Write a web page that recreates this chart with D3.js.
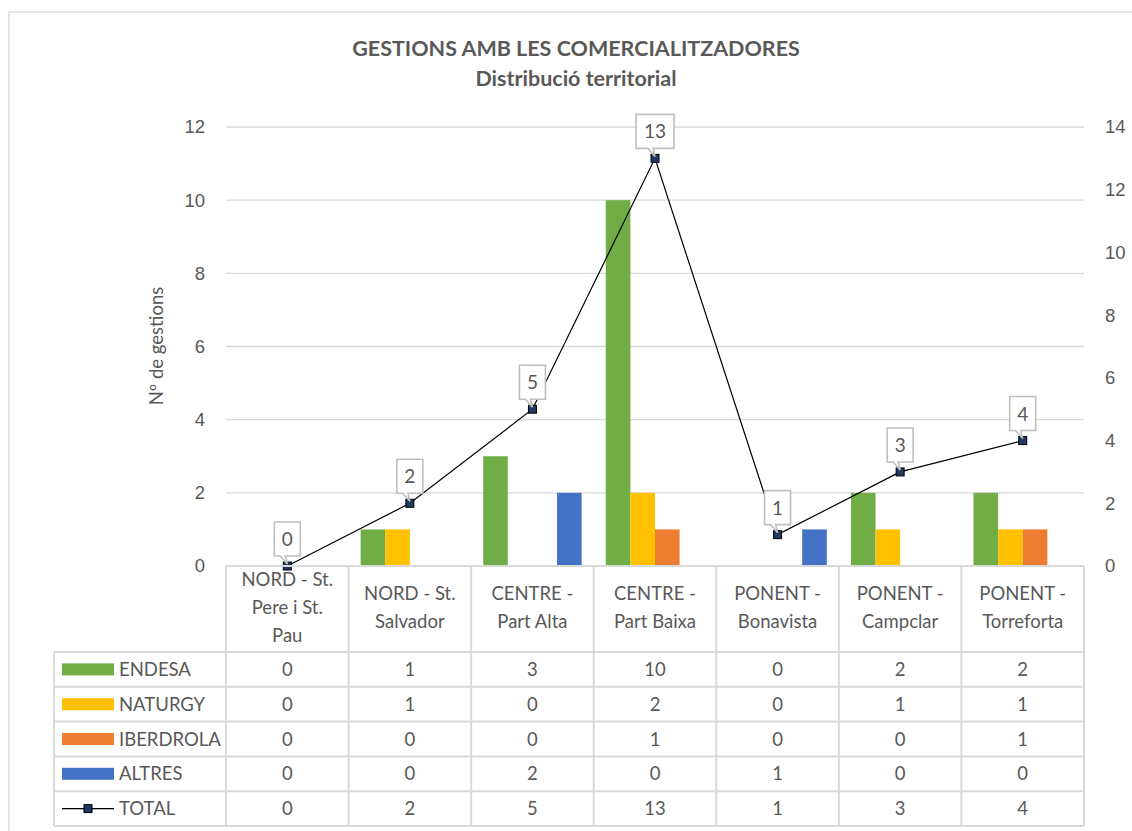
<!DOCTYPE html>
<html>
<head>
<meta charset="utf-8">
<script src="https://cdn.jsdelivr.net/npm/d3@7"></script>
<style>
  body { margin: 0; background: #fff; }
  svg { display: block; font-family: Lato, "Noto Sans", sans-serif; }
  .grid line { stroke: #d9d9d9; stroke-width: 1.3; }
  .tick-label { fill: #595959; font-size: 18.5px; }
  .cell { fill: #595959; font-size: 18.5px; }
</style>
</head>
<body>
<svg id="chart" width="1132" height="831"></svg>
<script>
// ------------------------------------------------------------
// Dades
// ------------------------------------------------------------
const categories = [
  "NORD - St. Pere i St. Pau",
  "NORD - St. Salvador",
  "CENTRE - Part Alta",
  "CENTRE - Part Baixa",
  "PONENT - Bonavista",
  "PONENT - Campclar",
  "PONENT - Torreforta"
];
// com es parteixen les etiquetes a l'eix
const categoryLines = [
  ["NORD - St.", "Pere i St.", "Pau"],
  ["NORD - St.", "Salvador"],
  ["CENTRE -", "Part Alta"],
  ["CENTRE -", "Part Baixa"],
  ["PONENT -", "Bonavista"],
  ["PONENT -", "Campclar"],
  ["PONENT -", "Torreforta"]
];
const endesa = [0, 1, 3, 10, 0, 2, 2];
const naturgy = [0, 1, 0, 2, 0, 1, 1];
const iberdrola = [0, 0, 0, 1, 0, 0, 1];
const altres = [0, 0, 2, 0, 1, 0, 0];
const total = [0, 2, 5, 13, 1, 3, 4];

const leftTicks = [0, 2, 4, 6, 8, 10, 12];
const rightTicks = [0, 2, 4, 6, 8, 10, 12, 14];

const seriesNames = ["ENDESA", "NATURGY", "IBERDROLA", "ALTRES"];
const seriesColors = ["#70AD47", "#FFC000", "#ED7D31", "#4472C4"];
const barSeries = [endesa, naturgy, iberdrola, altres];

// ------------------------------------------------------------
// Mides
// ------------------------------------------------------------
const svg = d3.select("#chart");
const plot = { left: 226, right: 1084, top: 127, bottom: 566 };
const tableLeft = 54;
const rowH = 34.8;
const headerBottom = 652;

// marc exterior (retallat per la finestra a dreta i a baix)
svg.append("rect")
  .attr("x", 9).attr("y", 12)
  .attr("width", 1200).attr("height", 900)
  .attr("fill", "none").attr("stroke", "#d9d9d9").attr("stroke-width", 1.3);

// títol
svg.append("text")
  .attr("x", 576).attr("y", 56)
  .attr("text-anchor", "middle")
  .attr("font-size", 21.5).attr("font-weight", "bold").attr("fill", "#595959")
  .text("GESTIONS AMB LES COMERCIALITZADORES");
svg.append("text")
  .attr("x", 576).attr("y", 86)
  .attr("text-anchor", "middle")
  .attr("font-size", 21.5).attr("font-weight", "bold").attr("fill", "#595959")
  .text("Distribució territorial");

// ------------------------------------------------------------
// Escales
// ------------------------------------------------------------
const x = d3.scaleBand()
  .domain(categories)
  .range([plot.left, plot.right]);

const xInner = d3.scaleBand()
  .domain(seriesNames)
  .range([0, x.bandwidth()])
  .paddingOuter(0.49);

const yLeft = d3.scaleLinear().domain([0, 12]).range([plot.bottom, plot.top]);
const yRight = d3.scaleLinear().domain([0, 14]).range([plot.bottom, plot.top]);

// graella
const grid = svg.append("g").attr("class", "grid");
grid.selectAll("line")
  .data(leftTicks)
  .join("line")
  .attr("x1", plot.left).attr("x2", plot.right)
  .attr("y1", (d) => yLeft(d)).attr("y2", (d) => yLeft(d));

// eix esquerre
svg.append("g")
  .attr("transform", `translate(${plot.left - 21},0)`)
  .call(d3.axisLeft(yLeft).tickValues(leftTicks).tickSize(0).tickPadding(0))
  .call((g) => g.select(".domain").remove())
  .call((g) => g.selectAll("text").attr("class", "tick-label").attr("fill", null).attr("font-family", null).attr("font-size", null));

// eix dret
svg.append("g")
  .attr("transform", `translate(${plot.right + 21},0)`)
  .call(d3.axisRight(yRight).tickValues(rightTicks).tickSize(0).tickPadding(0))
  .call((g) => g.select(".domain").remove())
  .call((g) => g.selectAll("text").attr("class", "tick-label").attr("fill", null).attr("font-family", null).attr("font-size", null));

// títol eix Y
svg.append("text")
  .attr("transform", `translate(163,346) rotate(-90)`)
  .attr("text-anchor", "middle")
  .attr("font-size", 18.5).attr("fill", "#595959")
  .text("Nº de gestions");

// ------------------------------------------------------------
// Barres
// ------------------------------------------------------------
const groups = svg.append("g").selectAll("g")
  .data(categories)
  .join("g")
  .attr("transform", (d) => `translate(${x(d)},0)`);

groups.selectAll("rect")
  .data((d, i) => seriesNames.map((s, k) => ({ s, v: barSeries[k][i], c: seriesColors[k] })))
  .join("rect")
  .attr("x", (d) => xInner(d.s))
  .attr("width", xInner.bandwidth())
  .attr("y", (d) => yLeft(d.v))
  .attr("height", (d) => yLeft(0) - yLeft(d.v))
  .attr("fill", (d) => d.c);

// ------------------------------------------------------------
// Línia TOTAL (eix dret)
// ------------------------------------------------------------
const cx = (i) => x(categories[i]) + x.bandwidth() / 2;
const line = d3.line()
  .x((d, i) => cx(i))
  .y((d) => yRight(d));

svg.append("path")
  .datum(total)
  .attr("d", line)
  .attr("fill", "none")
  .attr("stroke", "#000")
  .attr("stroke-width", 1.2);

svg.append("g").selectAll("rect")
  .data(total)
  .join("rect")
  .attr("x", (d, i) => cx(i) - 4)
  .attr("y", (d) => yRight(d) - 4)
  .attr("width", 8).attr("height", 8)
  .attr("fill", "#1F3864").attr("stroke", "#000").attr("stroke-width", 1);

// etiquetes tipus bafarada
const callouts = svg.append("g").selectAll("g")
  .data(total)
  .join("g")
  .attr("transform", (d, i) => `translate(${cx(i)},${yRight(d)})`);

callouts.append("path")
  .attr("d", (d) => {
    const w = String(d).length > 1 ? 38 : 26;
    const h = 34, gap = 10;
    const l = -w / 2, r = w / 2, b = -gap, t = -gap - h;
    return `M${l},${t}H${r}V${b}H-2L0,-2L-7,${b}H${l}Z`;
  })
  .attr("fill", "#fff")
  .attr("stroke", "#bfbfbf")
  .attr("stroke-width", 1.6);

callouts.append("text")
  .attr("y", -20)
  .attr("text-anchor", "middle")
  .attr("font-size", 19).attr("fill", "#595959")
  .text((d) => d);

// ------------------------------------------------------------
// Taula de dades
// ------------------------------------------------------------
const table = svg.append("g");
const lineColor = "#d9d9d9";
const nRows = 5;
const tableBottom = headerBottom + rowH * nRows;

// línia superior (eix X)
table.append("line")
  .attr("x1", plot.left).attr("x2", plot.right)
  .attr("y1", plot.bottom).attr("y2", plot.bottom)
  .attr("stroke", lineColor).attr("stroke-width", 2);

// línies horitzontals de files
d3.range(nRows + 1).forEach((r) => {
  table.append("line")
    .attr("x1", tableLeft).attr("x2", plot.right)
    .attr("y1", headerBottom + r * rowH).attr("y2", headerBottom + r * rowH)
    .attr("stroke", lineColor).attr("stroke-width", 2);
});

// línies verticals
d3.range(categories.length + 1).forEach((c) => {
  const xx = plot.left + c * x.bandwidth();
  table.append("line")
    .attr("x1", xx).attr("x2", xx)
    .attr("y1", plot.bottom).attr("y2", tableBottom)
    .attr("stroke", lineColor).attr("stroke-width", 2);
});
table.append("line")
  .attr("x1", tableLeft).attr("x2", tableLeft)
  .attr("y1", headerBottom).attr("y2", tableBottom)
  .attr("stroke", lineColor).attr("stroke-width", 2);

// etiquetes de categoria
categoryLines.forEach((lines, i) => {
  const lh = 28;
  const mid = 607;
  const y0 = mid - (lines.length - 1) * lh / 2 + 7;
  const t = table.append("text")
    .attr("class", "cell")
    .attr("text-anchor", "middle");
  lines.forEach((s, k) => {
    t.append("tspan")
      .attr("x", cx(i))
      .attr("y", y0 + k * lh)
      .text(s);
  });
});

// files de valors
const rowData = [endesa, naturgy, iberdrola, altres, total];
const rowNames = ["ENDESA", "NATURGY", "IBERDROLA", "ALTRES", "TOTAL"];
rowData.forEach((vals, r) => {
  const yc = headerBottom + r * rowH + rowH / 2;
  // clau de la llegenda
  if (r < 4) {
    table.append("rect")
      .attr("x", 62).attr("y", yc - 6)
      .attr("width", 52).attr("height", 12)
      .attr("fill", seriesColors[r]);
  } else {
    table.append("line")
      .attr("x1", 62).attr("x2", 114)
      .attr("y1", yc).attr("y2", yc)
      .attr("stroke", "#000").attr("stroke-width", 1.2);
    table.append("rect")
      .attr("x", 84).attr("y", yc - 4)
      .attr("width", 8).attr("height", 8)
      .attr("fill", "#1F3864").attr("stroke", "#000");
  }
  table.append("text")
    .attr("class", "cell")
    .attr("x", 119).attr("y", yc + 6.5)
    .text(rowNames[r]);
  vals.forEach((v, i) => {
    table.append("text")
      .attr("class", "cell")
      .attr("x", cx(i)).attr("y", yc + 6.5)
      .attr("text-anchor", "middle")
      .text(v);
  });
});
</script>
</body>
</html>
